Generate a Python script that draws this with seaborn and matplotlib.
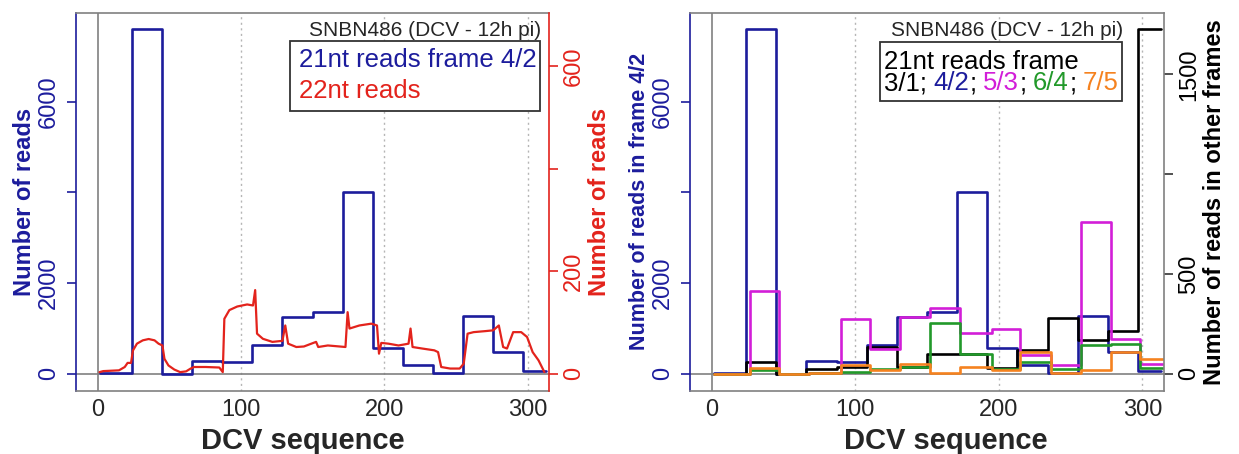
import matplotlib
matplotlib.use("Agg")
import matplotlib.pyplot as plt
from matplotlib.patches import Rectangle
import seaborn as sns

# window edges along the DCV sequence (two slightly shifted sets)
edges_a = [2, 24, 45, 66, 87, 108, 129, 150, 171, 192, 213, 234, 255, 276, 297, 313]
edges_b = [2, 27, 47, 68, 90, 110, 131, 152, 173, 195, 215, 236, 257, 278, 298, 314]

# 21nt reads per frame (one value per window)
frame_42 = [20, 7600, 0, 270, 250, 640, 1250, 1360, 4015, 565, 185, 15, 1275, 480, 50]
frame_31 = [0, 59, 0, 25, 34, 132, 34, 100, 96, 30, 117, 277, 168, 213, 1726]
frame_53 = [0, 414, 0, 3, 272, 121, 285, 331, 206, 226, 92, 42, 760, 173, 47]
frame_64 = [0, 17, 0, 3, 8, 25, 34, 252, 96, 25, 59, 25, 143, 148, 30]
frame_75 = [0, 29, 0, 3, 45, 17, 47, 3, 34, 17, 109, 3, 20, 109, 75]

# 22nt reads profile
pos_22 = [1.4, 4, 15, 19, 21, 23.4, 24.7, 27.5, 31.6, 35.7, 39.8, 42.6, 45.3, 46.7,
          49.5, 53.6, 57.7, 61.8, 65, 67.3, 75.5, 85, 87.4, 88.5, 92, 97.5, 104.4,
          108.5, 110, 111.3, 115.4, 122, 129, 131, 133, 138.7, 144, 152.5, 154,
          160.7, 169, 173, 174.5, 175.8, 182.7, 191, 195, 196.4, 198, 203, 210, 217,
          218.4, 219.8, 226.6, 235, 237.6, 239.8, 246, 252.7, 255.5, 258.2, 262.4,
          270.6, 276, 280, 283, 285.7, 290, 295.6, 299.7, 303.6, 307.7, 311.8]
reads_22 = [3, 5, 6.5, 13, 21, 21, 45, 58.5, 65, 67.6, 65, 58.5, 55, 29,
            16, 8, 3, 4.5, 10, 13, 13, 12, 3, 107, 124, 131, 135,
            133, 163, 78, 68, 62, 64, 94, 58.5, 52, 53, 62, 52,
            55, 53, 52, 120, 88, 94, 97.5, 94, 39, 60, 58.5, 55, 58.5,
            88, 52, 49, 45.5, 42, 13, 10, 10, 19.5, 78, 81,
            83, 84.5, 94, 52, 49, 81, 81, 71.5, 42, 26, 3]

BLUE = "#1c1c9c"
RED = "#e3231c"
MAGENTA = "#d21ed8"
GREEN = "#22992a"
ORANGE = "#f5821f"
GRAY = "#808080"

sns.set_style("white")
plt.rcParams["font.family"] = ["Liberation Sans", "DejaVu Sans"]


def step_line(ax, edges, vals, color):
    sns.lineplot(x=edges, y=list(vals) + [vals[-1]], ax=ax, color=color, lw=1.9,
                 drawstyle="steps-post", estimator=None, sort=False)


def base_axes(ax):
    ax.set_xlim(-15, 315)
    ax.set_ylim(-383, 7970)
    ax.set_xticks([0, 100, 200, 300])
    ax.tick_params(axis="x", length=0, pad=6, labelsize=17)
    for v in (100, 200, 300):
        ax.axvline(v, color="#b5b5b5", ls=(0, (1.5, 2.5)), lw=1)
    ax.axvline(0, color=GRAY, lw=1.2)
    ax.axhline(0, color=GRAY, lw=1.2)
    ax.set_yticks([0, 2000, 4000, 6000], labels=["0", "2000", "", "6000"],
                  rotation=90, va="center")
    ax.tick_params(axis="y", length=6.5, width=1.2, color=BLUE, labelcolor=BLUE,
                   labelsize=17, pad=5)
    ax.spines["left"].set_color(BLUE)
    ax.spines["left"].set_linewidth(1.2)
    for s in ("top", "bottom"):
        ax.spines[s].set_color(GRAY)
        ax.spines[s].set_linewidth(1.2)
    ax.spines["right"].set_visible(False)
    ax.set_xlabel("DCV sequence", fontsize=21, fontweight="bold")


def twin_axes(ax, color, spine_color, ylim, ticks, labels, label):
    ax2 = ax.twinx()
    ax2.set_ylim(*ylim)
    ax2.set_yticks(ticks, labels=labels, rotation=90, va="center")
    ax2.tick_params(axis="y", length=6.5, width=1.2, color=spine_color,
                    labelcolor=color, labelsize=17, pad=3.5)
    for s in ("left", "top", "bottom"):
        ax2.spines[s].set_visible(False)
    ax2.spines["right"].set_color(spine_color)
    ax2.spines["right"].set_linewidth(1.2)
    ax2.set_ylabel(label, fontsize=17, fontweight="bold", color=color)
    return ax2


fig = plt.figure(figsize=(12.39, 4.54), dpi=100)
ax_l = fig.add_axes([76 / 1239, 1 - 391 / 454, 473 / 1239, 378.3 / 454])
ax_r = fig.add_axes([690 / 1239, 1 - 391 / 454, 474 / 1239, 378.3 / 454])

# left panel
base_axes(ax_l)
step_line(ax_l, edges_a, frame_42, BLUE)
ax_l.set_ylabel("Number of reads", fontsize=17, fontweight="bold", color=BLUE)
ax_l.yaxis.set_label_coords(-0.085, 0.5)
ax_l.xaxis.set_label_coords(0.48, -0.095)

ax_l2 = twin_axes(ax_l, RED, RED, (-33.8, 704), [0, 200, 400, 600],
                  ["0", "200", "", "600"], "Number of reads")
ax_l2.yaxis.set_label_coords(1.082, 0.5)
sns.lineplot(x=pos_22, y=reads_22, ax=ax_l2, color=RED, lw=1.6,
             estimator=None, sort=False)
ax_l2.set_xlim(-15, 315)

ax_l2.text(0.984, 0.952, "SNBN486 (DCV - 12h pi)", ha="right", va="center",
           fontsize=15, transform=ax_l2.transAxes)
ax_l2.add_patch(Rectangle((0.452, 0.741), 0.530, 0.185, transform=ax_l2.transAxes,
                          facecolor="white", edgecolor="#333333", lw=1.3, zorder=5))
ax_l2.text(0.471, 0.875, "21nt reads frame 4/2", color=BLUE, fontsize=18.5,
           va="center", transform=ax_l2.transAxes, zorder=6)
ax_l2.text(0.471, 0.794, "22nt reads", color=RED, fontsize=18.5,
           va="center", transform=ax_l2.transAxes, zorder=6)

# right panel
base_axes(ax_r)
step_line(ax_r, edges_a, frame_42, BLUE)
ax_r.set_ylabel("Number of reads in frame 4/2", fontsize=15.5, fontweight="bold",
                color=BLUE)
ax_r.yaxis.set_label_coords(-0.084, 0.5)
ax_r.xaxis.set_label_coords(0.54, -0.095)

ax_r2 = twin_axes(ax_r, "black", GRAY, (-87, 1809), [0, 500, 1000, 1500],
                  ["0", "500", "", "1500"], "Number of reads in other frames")
ax_r2.tick_params(axis="y", color="#333333")
ax_r2.yaxis.set_label_coords(1.082, 0.5)
step_line(ax_r2, edges_a, frame_31, "black")
step_line(ax_r2, edges_b, frame_53, MAGENTA)
step_line(ax_r2, edges_b, frame_64, GREEN)
step_line(ax_r2, edges_b, frame_75, ORANGE)
ax_r2.set_xlim(-15, 315)

ax_r2.text(0.913, 0.952, "SNBN486 (DCV - 12h pi)", ha="right", va="center",
           fontsize=15, transform=ax_r2.transAxes)
ax_r2.add_patch(Rectangle((0.401, 0.767), 0.510, 0.156, transform=ax_r2.transAxes,
                          facecolor="white", edgecolor="#333333", lw=1.3, zorder=5))
ax_r2.text(0.409, 0.870, "21nt reads frame", color="black", fontsize=18.5,
           va="center", transform=ax_r2.transAxes, zorder=6)

pieces = [("3/1;", "black", 0), ("4/2", BLUE, 4.5), (";", "black", 0.6),
          ("5/3", MAGENTA, 4.5), (";", "black", 0.6), ("6/4", GREEN, 4.5),
          (";", "black", 0.6), ("7/5", ORANGE, 4.5)]
prev = ax_r2.text(0.409, 0.813, pieces[0][0], color=pieces[0][1], fontsize=18.5,
                  va="center", transform=ax_r2.transAxes, zorder=6)
for txt, col, gap in pieces[1:]:
    prev = ax_r2.annotate(txt, xy=(1, 0), xycoords=prev, xytext=(gap, 0),
                          textcoords="offset points", color=col, fontsize=18.5,
                          va="bottom", ha="left", zorder=6)

fig.savefig("out.png", dpi=100)
